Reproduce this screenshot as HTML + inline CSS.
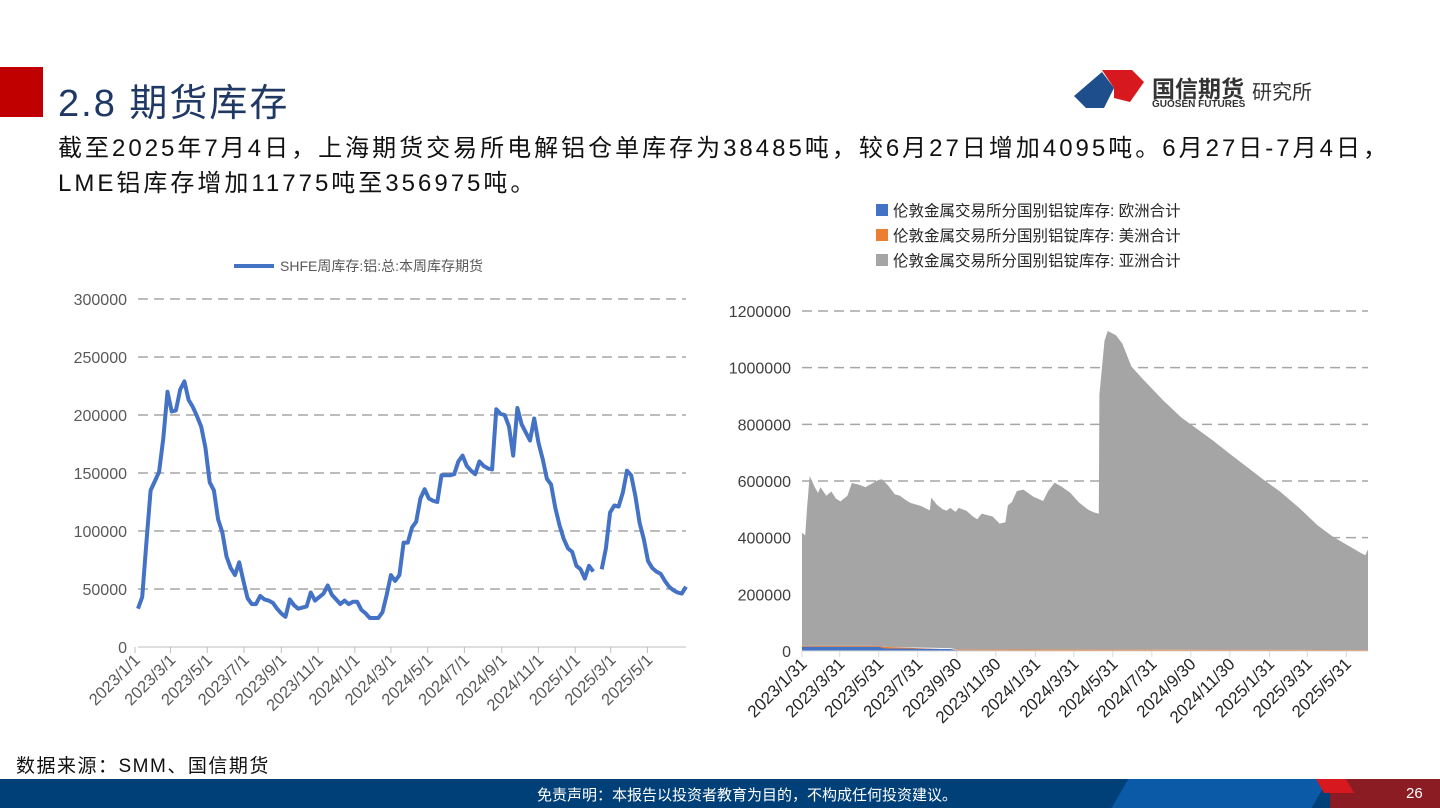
<!DOCTYPE html>
<html><head><meta charset="utf-8">
<style>
body{margin:0;width:1440px;height:810px;overflow:hidden;background:#fff;font-family:"Liberation Sans","Noto Sans CJK SC",sans-serif;position:relative}
.abs{position:absolute}
</style></head><body>
<div class="abs" style="left:0;top:67px;width:43px;height:50px;background:#c00000"></div>
<div class="abs" style="left:58px;top:72px;font-size:38px;color:#1f3864;letter-spacing:2px">2.8 期货库存</div>
<div class="abs" style="left:1072px;top:68px;width:290px;height:44px">
<svg width="80" height="44" style="position:absolute;left:0;top:0"><polygon points="2,28 30,4 42,20 32,40 14,40" fill="#1f4e8c"/><polygon points="30,2 60,2 72,14 58,34 42,30 42,20" fill="#d7191f"/></svg>
<div class="abs" style="left:80px;top:2px;font-size:23px;font-weight:bold;color:#333">国信期货</div>
<div class="abs" style="left:180px;top:8px;font-size:20px;color:#333">研究所</div>
<div class="abs" style="left:80px;top:31px;font-size:10px;font-weight:bold;color:#333">GUOSEN FUTURES</div>
</div>
<div class="abs" style="left:58px;top:131px;font-size:24px;line-height:35px;color:#111;width:1382px;letter-spacing:3px;white-space:nowrap">截至2025年7月4日，上海期货交易所电解铝仓单库存为38485吨，较6月27日增加4095吨。6月27日-7月4日，<br>LME铝库存增加11775吨至356975吨。</div>

<svg class="abs" style="left:0;top:0" width="1440" height="810" id="charts"></svg>

<div class="abs" style="left:16px;top:751px;font-size:19px;color:#111;letter-spacing:1.5px">数据来源：SMM、国信期货</div>
<div class="abs" style="left:0;top:779px;width:1440px;height:29px;background:#004078;overflow:hidden">
<div class="abs" style="left:1120px;top:0;width:200px;height:29px;background:#0a5aa8;transform:skewX(-30deg)"></div>
<div class="abs" style="left:1330px;top:0;width:120px;height:29px;background:#8b1c24"></div>
<div class="abs" style="left:1320px;top:0;width:30px;height:14px;background:#d7191f;transform:skewX(30deg)"></div>
<div class="abs" style="left:537px;top:5px;font-size:15px;color:#fff">免责声明：本报告以投资者教育为目的，不构成任何投资建议。</div>
<div class="abs" style="left:1406px;top:6px;font-size:15px;color:#fff">26</div>
</div>

<script>
// Left chart data (SHFE weekly, tonnes)
const shfeStart = "2023-01-06";
const shfeValues = [33000,43000,90000,135000,143000,151000,180000,220000,203000,204000,222000,229000,213000,207000,199000,190000,172000,142000,135000,110000,99000,78000,68000,62000,73000,57000,42000,37000,37000,44000,41000,40000,38000,33000,29000,26000,41000,36000,33000,34000,35000,47000,40000,43000,46000,53000,45000,41000,37000,40000,37000,39000,
39000,32000,29000,25000,25000,25000,30000,45000,62000,57000,62000,90000,90000,103000,108000,128000,136000,128000,126000,125000,148000,148000,148000,149000,160000,165000,156000,152000,149000,160000,156000,154000,153000,205000,201000,200000,190000,165000,206000,192000,185000,178000,197000,176000,162000,145000,140000,120000,105000,93000,85000,82000,
70000,67000,59000,70000,65000,null,67000,85000,116000,122000,121000,133000,152000,148000,130000,107000,93000,74000,68000,65000,63000,57000,52000,49000,47000,46000,52000];
const shfeTicks = [0,50000,100000,150000,200000,250000,300000];
const shfeXTicks = ["2023/1/1","2023/3/1","2023/5/1","2023/7/1","2023/9/1","2023/11/1","2024/1/1","2024/3/1","2024/5/1","2024/7/1","2024/9/1","2024/11/1","2025/1/1","2025/3/1","2025/5/1"];
// Right chart data (LME by region)
const asiaDates = ["2023/1/31","2023/2/5","2023/2/8","2023/2/12","2023/2/20","2023/2/25","2023/3/1","2023/3/10","2023/3/18","2023/3/25","2023/4/1","2023/4/12","2023/4/19","2023/4/28","2023/5/5","2023/5/10","2023/5/30","2023/6/5","2023/6/15","2023/6/25","2023/7/3","2023/7/12","2023/7/20","2023/8/5","2023/8/19","2023/8/21","2023/8/30","2023/9/8","2023/9/14","2023/9/20","2023/9/28","2023/10/3","2023/10/15","2023/10/25","2023/11/1","2023/11/8","2023/11/25","2023/12/6","2023/12/15","2023/12/19","2023/12/25","2024/1/2","2024/1/12","2024/1/28","2024/2/12","2024/2/20","2024/3/1","2024/3/12","2024/3/25","2024/4/8","2024/4/22","2024/5/1","2024/5/9","2024/5/10","2024/5/18","2024/5/23","2024/6/5","2024/6/15","2024/6/29","2024/7/15","2024/8/18","2024/9/15","2024/11/3","2024/12/1","2025/1/22","2025/2/16","2025/3/19","2025/4/16","2025/5/10","2025/6/25","2025/6/30","2025/7/4"];
const asiaValues = [400000,390000,490000,600000,560000,540000,560000,530000,545000,520000,510000,530000,575000,570000,565000,560000,585000,590000,570000,540000,535000,520000,510000,500000,485000,530000,505000,490000,485000,495000,485000,500000,490000,470000,460000,480000,470000,445000,450000,510000,520000,560000,565000,540000,525000,560000,590000,575000,555000,520000,495000,485000,480000,900000,1090000,1125000,1110000,1080000,1000000,960000,880000,820000,740000,690000,600000,560000,500000,440000,400000,340000,335000,355000];
const euDates = ["2023/1/31","2023/5/31","2023/6/10","2023/9/20","2023/9/30","2024/3/1","2025/7/4"];
const euValues = [15000,15000,9000,7000,2000,1500,500];
const usDates = ["2023/1/31","2023/5/31","2023/6/10","2023/9/30","2025/7/4"];
const usValues = [3000,3000,5000,3000,3000];
const lmeYTicks = [0,200000,400000,600000,800000,1000000,1200000];
const lmeXTicks = ["2023/1/31","2023/3/31","2023/5/31","2023/7/31","2023/9/30","2023/11/30","2024/1/31","2024/3/31","2024/5/31","2024/7/31","2024/9/30","2024/11/30","2025/1/31","2025/3/31","2025/5/31"];

const NS="http://www.w3.org/2000/svg";
const svg=document.getElementById('charts');
function mk(tag,attrs,parent){const e=document.createElementNS(NS,tag);for(const k in attrs)e.setAttribute(k,attrs[k]);(parent||svg).appendChild(e);return e;}
function day(s){const p=s.split(/[-\/]/).map(Number);return Date.UTC(p[0],p[1]-1,p[2])/864e5;}

// ---------- Left chart ----------
const L={x0:138,x1:686,y0:647,y1:299,d0:day("2023-01-06"),d1:day("2025-07-04")};
const lx=d=>L.x0+(d-L.d0)/(L.d1-L.d0)*(L.x1-L.x0);
const ly=v=>L.y0-v/300000*(L.y0-L.y1);
shfeTicks.forEach(t=>{
  if(t>0){const g=mk('line',{x1:L.x0,x2:L.x1,y1:ly(t),y2:ly(t),stroke:'#a6a6a6','stroke-width':1.5,'stroke-dasharray':'10,6'});
  }
  const tx=mk('text',{x:127,y:ly(t)+6,'text-anchor':'end','font-size':16,fill:'#595959'});
  tx.textContent=t;
});
const la=mk('line',{x1:L.x0,x2:L.x1,y1:L.y0,y2:L.y0,stroke:'#bfbfbf','stroke-width':1});

shfeXTicks.forEach(s=>{const x=lx(day(s));
  const tk=mk('line',{x1:x,x2:x,y1:L.y0,y2:L.y0+6,stroke:'#bfbfbf'});
  
  const tx=mk('text',{x:x+6,y:L.y0+14,'text-anchor':'end','font-size':16.5,fill:'#595959',transform:`rotate(-45 ${x+6} ${L.y0+14})`});
  tx.textContent=s;});
let d='',pen=false;
shfeValues.forEach((v,i)=>{if(v===null){pen=false;return;}const x=lx(L.d0+7*i),y=ly(v);d+=(pen?'L':'M')+x.toFixed(1)+','+y.toFixed(1);pen=true;});
const sl=mk('path',{d:d,fill:'none',stroke:'#4472c4','stroke-width':4,'stroke-linejoin':'round'});

const lg=mk('line',{x1:234,x2:274,y1:266,y2:266,stroke:'#4472c4','stroke-width':4});

const lt=mk('text',{x:280,y:271,'font-size':14,fill:'#595959'});
lt.textContent='SHFE周库存:铝:总:本周库存期货';

// ---------- Right chart ----------
const R={x0:802,x1:1368,y0:651,y1:311,d0:day("2023/1/31"),d1:day("2025/7/4")};
const rx=d=>R.x0+(d-R.d0)/(R.d1-R.d0)*(R.x1-R.x0);
const ry=v=>R.y0-v/1200000*(R.y0-R.y1);
lmeYTicks.forEach(t=>{
  if(t>0){const g=mk('line',{x1:R.x0,x2:R.x1,y1:ry(t),y2:ry(t),stroke:'#a6a6a6','stroke-width':1.5,'stroke-dasharray':'10,6'});
  }
  const tx=mk('text',{x:791,y:ry(t)+6,'text-anchor':'end','font-size':16,fill:'#404040'});
  tx.textContent=t;
});
function interp(dates,vals,dd){const ds=dates.map(day);if(dd<=ds[0])return vals[0];for(let i=1;i<ds.length;i++){if(dd<=ds[i]){const f=(dd-ds[i-1])/(ds[i]-ds[i-1]||1);return vals[i-1]+f*(vals[i]-vals[i-1]);}}return vals[vals.length-1];}
function areaPath(lowerFn,dates,vals){const ds=dates.map(day);let top='',bot=[];ds.forEach((dd,i)=>{const lo=lowerFn(dd);top+=(i?'L':'M')+rx(dd).toFixed(1)+','+ry(lo+vals[i]).toFixed(1);bot.push(rx(dd).toFixed(1)+','+ry(lo).toFixed(1));});return top+'L'+bot.reverse().join('L')+'Z';}
const euAt=dd=>interp(euDates,euValues,dd);
const usAt=dd=>interp(usDates,usValues,dd);
const asia=mk('path',{d:areaPath(dd=>euAt(dd)+usAt(dd),asiaDates,asiaValues),fill:'#a5a5a5'});

const us=mk('path',{d:areaPath(euAt,usDates,usValues),fill:'#ed7d31'});

const eu=mk('path',{d:areaPath(()=>0,euDates,euValues),fill:'#4472c4'});

const ra=mk('line',{x1:R.x0,x2:R.x1,y1:R.y0,y2:R.y0,stroke:'#d9d9d9'});

lmeXTicks.forEach(s=>{const x=rx(day(s));
  const tk=mk('line',{x1:x,x2:x,y1:R.y0,y2:R.y0+6,stroke:'#d9d9d9'});
  
  const tx=mk('text',{x:x+6,y:R.y0+14,'text-anchor':'end','font-size':17,fill:'#262626',transform:`rotate(-45 ${x+6} ${R.y0+14})`});
  tx.textContent=s;});
const legendNames=['伦敦金属交易所分国别铝锭库存: 欧洲合计','伦敦金属交易所分国别铝锭库存: 美洲合计','伦敦金属交易所分国别铝锭库存: 亚洲合计'];
const legendColors=['#4472c4','#ed7d31','#a5a5a5'];
legendNames.forEach((n,i)=>{
  const r=mk('rect',{x:876,y:204+i*25,width:12,height:12,fill:legendColors[i]});
  
  const t=mk('text',{x:893,y:216+i*25,'font-size':15.5,fill:'#262626'});
  t.textContent=n;
});
</script>
</body></html>
